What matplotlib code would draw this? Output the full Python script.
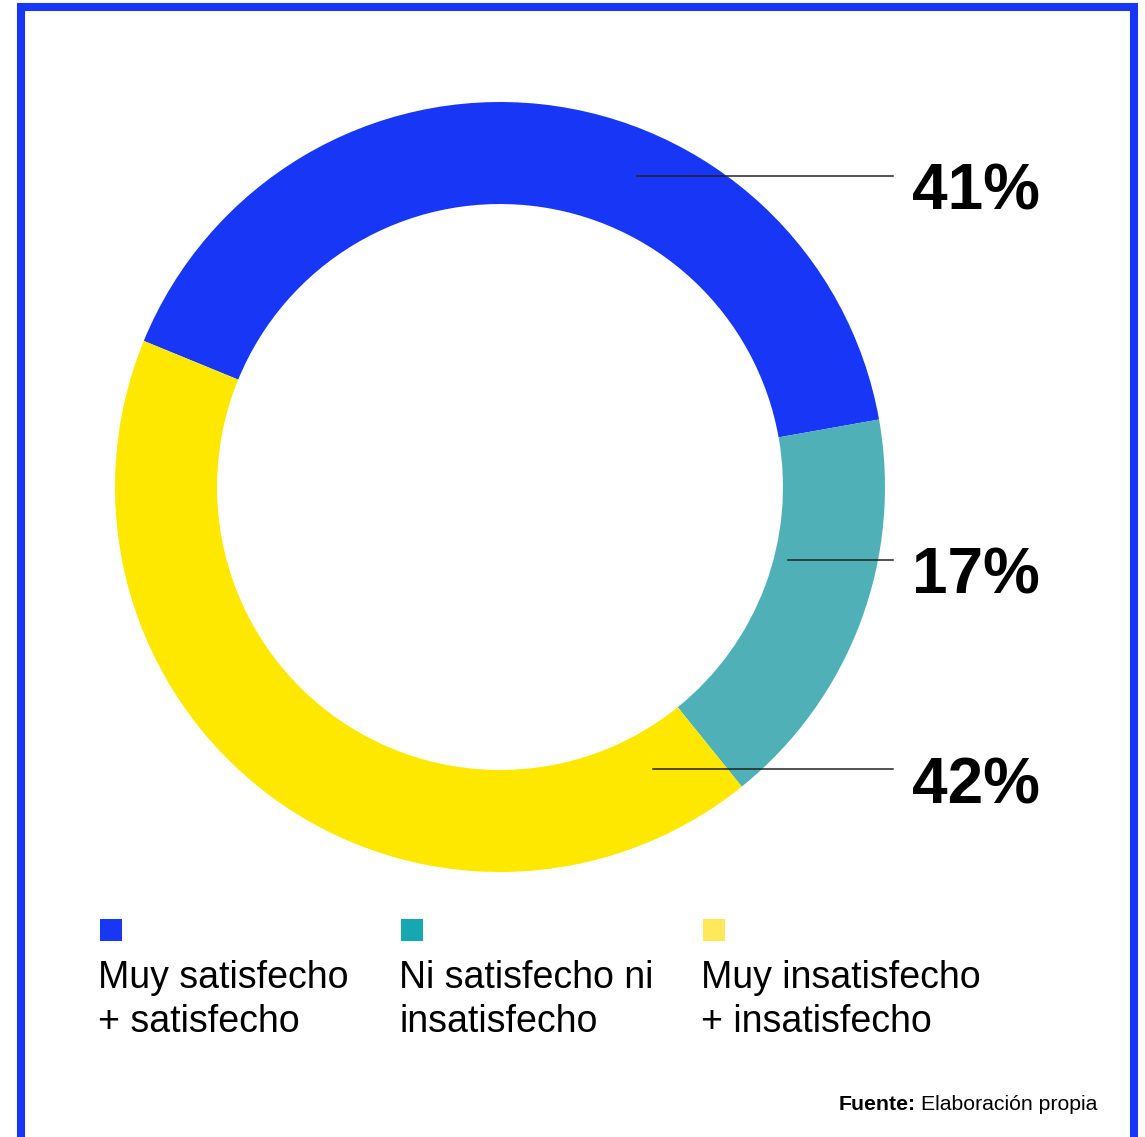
import matplotlib.pyplot as plt
import matplotlib.patches as mpatches

plt.rcParams['font.family'] = ['Liberation Sans', 'DejaVu Sans']

# Datos
categorias = ['Muy satisfecho\n+ satisfecho', 'Ni satisfecho ni\ninsatisfecho', 'Muy insatisfecho\n+ insatisfecho']
valores = [41, 17, 42]
etiquetas = ['41%', '17%', '42%']
colores_anillo = ['#1736F5', '#50B0B8', '#FFE800']
colores_leyenda = ['#1736F5', '#16A8B0', '#FFE95A']

W, H = 1145, 1137
fig = plt.figure(figsize=(W / 100, H / 100), dpi=100, facecolor='white')
ax = fig.add_axes([0, 0, 1, 1])


def fy(y):
    # coordenadas de imagen (y hacia abajo) -> ejes
    return H - y


# Anillo
cx, cy, r = 500, fy(487), 385
wedges, _ = ax.pie(valores, colors=colores_anillo, startangle=157.7, counterclock=False,
                   center=(cx, cy), radius=r, frame=True,
                   wedgeprops=dict(width=r * 0.265, linewidth=0))
ax.set_xlim(0, W)
ax.set_ylim(0, H)
ax.set_aspect('equal')
ax.axis('off')

# Marco azul
ax.add_patch(mpatches.Rectangle((21, fy(1200)), 1113, 1193, fill=False,
                                edgecolor='#1736F5', linewidth=5.8))

# Líneas guía y porcentajes
lineas = [(637, 176), (788, 560), (653, 769)]
for (x0, y0), txt in zip(lineas, etiquetas):
    ax.plot([x0, 893], [fy(y0), fy(y0)], color='#222222', linewidth=1.1)
    ax.text(912, fy(y0 + 17), txt, fontsize=46, fontweight='bold',
            ha='left', va='center', color='black')

# Leyenda
leg_x = [100, 401, 703]
for x, cat, col in zip(leg_x, categorias, colores_leyenda):
    ax.add_patch(mpatches.Rectangle((x, fy(941)), 22, 22, facecolor=col, edgecolor='none'))
    ax.text(x - 2, fy(960), cat, fontsize=27, ha='left', va='top',
            linespacing=1.28, color='black')

# Fuente
t1 = ax.text(839, fy(1104), 'Fuente:', fontsize=15.3, fontweight='bold', ha='left', va='center')
fig.canvas.draw()
bb = ax.transData.inverted().transform(t1.get_window_extent())
ax.text(bb[1][0] + 5, fy(1104), 'Elaboración propia', fontsize=15.3, ha='left', va='center')

fig.savefig('out.png', dpi=100, facecolor='white')
